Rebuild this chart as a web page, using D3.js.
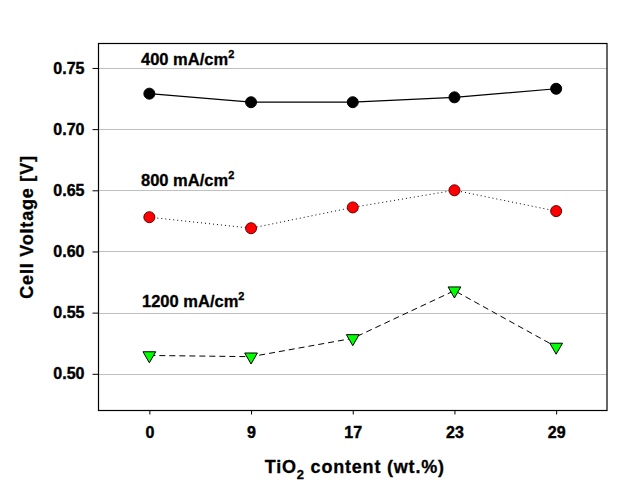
<!DOCTYPE html>
<html><head><meta charset="utf-8">
<script src="https://cdn.jsdelivr.net/npm/d3@7"></script>
<style>body{margin:0;background:#fff;} text{font-family:Arial,"Liberation Sans",sans-serif;font-weight:bold;}</style>
</head><body>
<svg id="c" width="642" height="489"></svg>
<script>
const categories = ["0","9","17","23","29"];
const v400 = [0.729,0.722,0.722,0.726,0.733];
const v800 = [0.628,0.619,0.636,0.650,0.633];
const v1200 = [0.515,0.514,0.529,0.568,0.522];
const yTicks = [0.50,0.55,0.60,0.65,0.70,0.75];
const seriesLabels = ["400","800","1200"];

const svg = d3.select("#c");
const L=98.5, R=607, T=43.5, B=410.5;
const x = d3.scalePoint().domain(categories).range([L,R]).padding(0.5);
const y = d3.scaleLinear().domain([0.47,0.77]).range([B,T]);
const FF = "Arial, 'Liberation Sans', sans-serif";

// grid
svg.append("g").selectAll("line").data(yTicks).join("line")
  .attr("x1",L).attr("x2",R).attr("y1",d=>Math.round(y(d))+0.5).attr("y2",d=>Math.round(y(d))+0.5)
  .attr("stroke","#c0c0c0").attr("stroke-width",1);

// frame
svg.append("rect").attr("x",L).attr("y",T).attr("width",R-L).attr("height",B-T)
  .attr("fill","none").attr("stroke","#000").attr("stroke-width",1.2);

// axes
const ya = svg.append("g").attr("transform",`translate(${L},0)`)
  .call(d3.axisLeft(y).tickValues(yTicks).tickFormat(d3.format(".2f")).tickSize(6).tickPadding(8));
ya.select(".domain").remove();
ya.selectAll("text").attr("font-size",16).attr("fill","#000").attr("font-family",FF)
  .attr("stroke","#000").attr("stroke-width",0.4);
const xa = svg.append("g").attr("transform",`translate(0,${B})`)
  .call(d3.axisBottom(x).tickSize(4).tickPadding(12));
xa.select(".domain").remove();
xa.selectAll("text").attr("font-size",16).attr("fill","#000").attr("font-family",FF)
  .attr("stroke","#000").attr("stroke-width",0.4);

// lines
const line = d3.line().x((d,i)=>x(categories[i])).y(d=>y(d));
svg.append("path").datum(v400).attr("d",line).attr("fill","none").attr("stroke","#000").attr("stroke-width",1.2);
svg.append("path").datum(v800).attr("d",line).attr("fill","none").attr("stroke","#000").attr("stroke-width",1).attr("stroke-dasharray","1,3");
svg.append("path").datum(v1200).attr("d",line).attr("fill","none").attr("stroke","#000").attr("stroke-width",1).attr("stroke-dasharray","6,4");

// markers
svg.append("g").selectAll("circle").data(v400).join("circle")
  .attr("cx",(d,i)=>x(categories[i])).attr("cy",d=>y(d)).attr("r",5.5).attr("fill","#000").attr("stroke","#000");
svg.append("g").selectAll("circle").data(v800).join("circle")
  .attr("cx",(d,i)=>x(categories[i])).attr("cy",d=>y(d)).attr("r",5.5).attr("fill","#ff0000").attr("stroke","#600").attr("stroke-width",1);
const tri = d3.symbol().type(d3.symbolTriangle).size(70);
svg.append("g").selectAll("path").data(v1200).join("path")
  .attr("d",tri).attr("transform",(d,i)=>`translate(${x(categories[i])},${y(d)}) rotate(180)`)
  .attr("fill","#00ff00").attr("stroke","#000").attr("stroke-width",1);

// series labels
const lblPos = [[141,65],[141,186],[142,307]];
seriesLabels.forEach((s,i)=>{
  const t = svg.append("text").attr("x",lblPos[i][0]).attr("y",lblPos[i][1]).attr("font-size",16.5)
    .attr("fill","#000").attr("stroke","#000").attr("stroke-width",0.3);
  t.append("tspan").text(s+" mA/cm");
  t.append("tspan").text("2").attr("font-size",11).attr("dy",-7);
});

// axis titles
const xt = svg.append("text").attr("x",(L+R)/2+2).attr("y",473).attr("text-anchor","middle").attr("font-size",18)
  .attr("letter-spacing",0.8).attr("fill","#000").attr("stroke","#000").attr("stroke-width",0.3);
xt.append("tspan").text("TiO");
xt.append("tspan").text("2").attr("font-size",13).attr("dy",6);
xt.append("tspan").text(" content (wt.%)").attr("dy",-6);

svg.append("text").attr("transform",`translate(33,${(T+B)/2}) rotate(-90)`).attr("text-anchor","middle")
  .attr("font-size",18).attr("letter-spacing",0.8).attr("fill","#000").attr("stroke","#000").attr("stroke-width",0.3)
  .text("Cell Voltage [V]");
</script>
</body></html>
